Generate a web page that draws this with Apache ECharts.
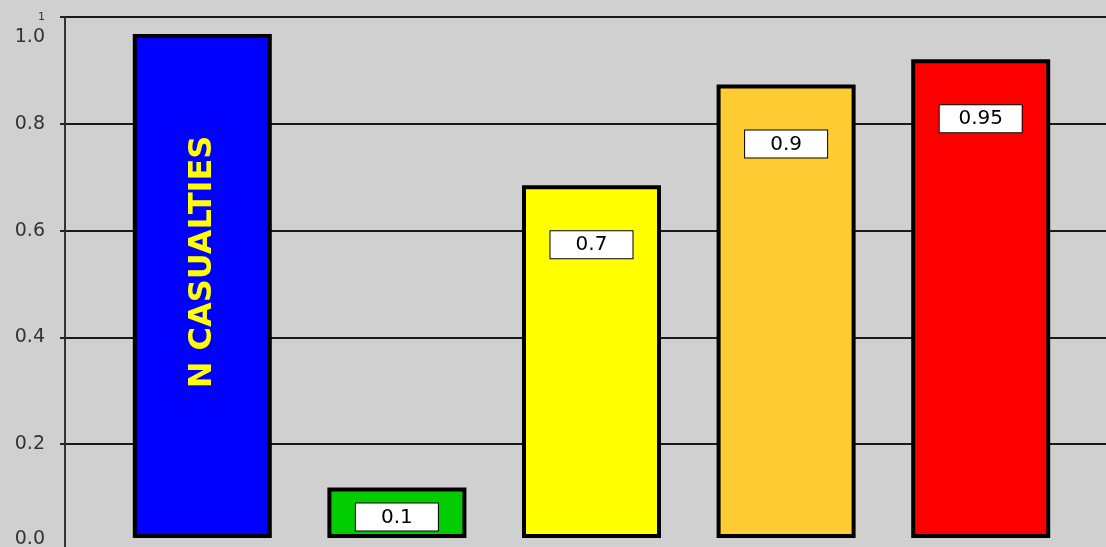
<!DOCTYPE html>
<html>
<head>
<meta charset="utf-8">
<script src="https://cdn.jsdelivr.net/npm/echarts@6/dist/echarts.min.js"></script>
<style>
  html, body { margin: 0; padding: 0; background: #d0d0d0; }
  #chart { width: 1106px; height: 547px; }
</style>
</head>
<body>
<div id="chart"></div>
<script>
// data
const categories = ['N CASUALTIES', 'B', 'C', 'D', 'E']
const barValues = [1.0, 0.1, 0.7, 0.9, 0.95]
const barColors = ['#0000ff', '#00cc00', '#ffff00', '#ffcc33', '#ff0000']
const yTickLabels = ['0.0', '0.2', '0.4', '0.6', '0.8', '1.0']
const topTickText = '1'

const chart = echarts.init(document.getElementById('chart'))

const labelFont = 'DejaVu Sans, Verdana, sans-serif'

// label for each bar: the first one carries the category title, rotated
const barData = barValues.map((v, i) => {
  const item = {
    value: v,
    itemStyle: { color: barColors[i], borderColor: '#000', borderWidth: 4 }
  }
  if (i === 0) {
    item.label = {
      show: true,
      position: 'inside',
      rotate: 90,
      offset: [24, 0],
      formatter: categories[0],
      color: '#ffff00',
      fontFamily: labelFont,
      fontWeight: 'bold',
      fontSize: 32,
      backgroundColor: 'transparent',
      borderWidth: 0,
      width: null,
      padding: 0,
      textShadowColor: '#222',
      textShadowOffsetX: 2,
      textShadowOffsetY: 2,
      textShadowBlur: 0
    }
  } else {
    item.label = { distance: v < 0.2 ? 16 : 46 }
  }
  return item
})

chart.setOption({
  animation: false,
  backgroundColor: '#d0d0d0',
  grid: [
    { left: 65, right: 0, top: 17, height: 534, outerBoundsMode: 'none', containLabel: false },
    { left: 105, right: 28, top: 34, bottom: 9, outerBoundsMode: 'none', containLabel: false }
  ],
  xAxis: [
    { type: 'value', gridIndex: 0, show: false, min: 0, max: 1 },
    { type: 'category', gridIndex: 1, show: false, data: categories }
  ],
  yAxis: [
    {
      type: 'value',
      gridIndex: 0,
      min: 0,
      max: 1,
      interval: 0.2,
      axisLine: { show: true, lineStyle: { color: '#333', width: 2 } },
      axisTick: { show: true, length: 5, lineStyle: { color: '#222', width: 2 } },
      splitLine: { show: true, lineStyle: { color: '#1a1a1a', width: 2 } },
      axisLabel: {
        margin: 20,
        color: '#333',
        fontFamily: labelFont,
        fontSize: 19,
        formatter: function (v) {
          const idx = Math.round(v * 5)
          const txt = yTickLabels[idx]
          if (idx === yTickLabels.length - 1) {
            return '{p| }\n{s|' + topTickText + '}\n{a|' + txt + '}'
          }
          if (idx === 0) {
            return '{b|' + txt + '}\n{q| }'
          }
          return '{n|' + txt + '}'
        },
        rich: {
          p: { lineHeight: 30, fontSize: 10 },
          s: { lineHeight: 10, fontSize: 11, color: '#333', fontFamily: labelFont },
          a: { lineHeight: 30, fontSize: 19, color: '#333', fontFamily: labelFont },
          b: { lineHeight: 16, fontSize: 19, color: '#333', fontFamily: labelFont },
          q: { lineHeight: 24, fontSize: 10 },
          n: { fontSize: 19, color: '#333', fontFamily: labelFont }
        }
      }
    },
    { type: 'value', gridIndex: 1, show: false, min: 0, max: 1 }
  ],
  series: [
    {
      type: 'bar',
      xAxisIndex: 1,
      yAxisIndex: 1,
      barWidth: 139,
      data: barData,
      label: {
        show: true,
        position: 'insideTop',
        formatter: p => String(p.value),
        color: '#000',
        fontFamily: labelFont,
        fontSize: 20,
        lineHeight: 20,
        width: 82,
        align: 'center',
        padding: [4, 0, 3, 0],
        backgroundColor: '#fff',
        borderColor: '#000',
        borderWidth: 1
      }
    }
  ]
})
</script>
</body>
</html>
